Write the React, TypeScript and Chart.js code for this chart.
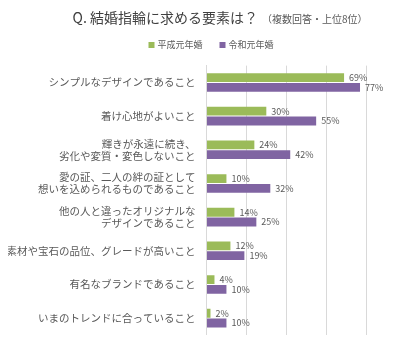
import React, { useEffect, useRef } from "react";
import { Chart, registerables } from "chart.js";

Chart.register(...registerables);

const categories: (string | string[])[] = [
  "シンプルなデザインであること",
  "着け心地がよいこと",
  ["輝きが永遠に続き、", "劣化や変質・変色しないこと"],
  ["愛の証、二人の絆の証として", "想いを込められるものであること"],
  ["他の人と違ったオリジナルな", "デザインであること"],
  "素材や宝石の品位、グレードが高いこと",
  "有名なブランドであること",
  "いまのトレンドに合っていること",
];
const heiseiValues = [69, 30, 24, 10, 14, 12, 4, 2];
const reiwaValues = [77, 55, 42, 32, 25, 19, 10, 10];
const seriesNames = ["平成元年婚", "令和元年婚"];
const seriesColors = ["#9BBB59", "#8064A2"];
const titleText = "Q. 結婚指輪に求める要素は？";
const subtitleText = "（複数回答・上位8位）";
const xTicks = [0, 20, 40, 60, 80];

const FONT = "'Noto Sans CJK JP', 'Noto Sans', sans-serif";

const titlePlugin = {
  id: "customTitle",
  afterDraw(chart: any) {
    const ctx = chart.ctx;
    ctx.save();
    ctx.textBaseline = "middle";
    ctx.font = `14px ${FONT}`;
    const w1 = ctx.measureText(titleText).width;
    ctx.font = `10px ${FONT}`;
    const w2 = ctx.measureText(subtitleText).width;
    const total = w1 + 4 + w2;
    let x = 212 - total / 2;
    const y = 10;
    ctx.textAlign = "left";
    ctx.fillStyle = "#404040";
    ctx.font = `14px ${FONT}`;
    ctx.fillText(titleText, x, y);
    x += w1 + 4;
    ctx.fillStyle = "#595959";
    ctx.font = `10px ${FONT}`;
    ctx.fillText(subtitleText, x, y + 1);
    ctx.restore();
  },
};

const legendPlugin = {
  id: "customLegend",
  afterDraw(chart: any) {
    const ctx = chart.ctx;
    ctx.save();
    ctx.font = `9px ${FONT}`;
    ctx.textBaseline = "middle";
    ctx.textAlign = "left";
    const box = 6;
    const gap = 3;
    const itemGap = 17;
    const ds = chart.data.datasets;
    const widths = ds.map((d: any) => box + gap + ctx.measureText(d.label).width);
    const total = widths.reduce((a: number, b: number) => a + b, 0) + itemGap * (ds.length - 1);
    let x = 203 - total / 2;
    const y = 37;
    ds.forEach((d: any, i: number) => {
      ctx.fillStyle = d.backgroundColor;
      ctx.fillRect(x, y - box / 2, box, box);
      ctx.fillStyle = "#595959";
      ctx.fillText(d.label, x + box + gap, y);
      x += widths[i] + itemGap;
    });
    ctx.restore();
  },
};

const dataLabelPlugin = {
  id: "dataLabels",
  afterDatasetsDraw(chart: any) {
    const ctx = chart.ctx;
    ctx.save();
    ctx.font = `9px ${FONT}`;
    ctx.fillStyle = "#595959";
    ctx.textBaseline = "middle";
    ctx.textAlign = "left";
    chart.data.datasets.forEach((d: any, di: number) => {
      const meta = chart.getDatasetMeta(di);
      meta.data.forEach((el: any, i: number) => {
        ctx.fillText(`${d.data[i]}%`, el.x + 5, el.y);
      });
    });
    ctx.restore();
  },
};

export default function App() {
  const ref = useRef<HTMLCanvasElement | null>(null);
  useEffect(() => {
    if (!ref.current) return;
    const chart = new Chart(ref.current, {
      type: "bar",
      data: {
        labels: categories,
        datasets: [
          {
            label: seriesNames[0],
            data: heiseiValues,
            backgroundColor: seriesColors[0],
            categoryPercentage: 0.58,
            barPercentage: 0.9,
          },
          {
            label: seriesNames[1],
            data: reiwaValues,
            backgroundColor: seriesColors[1],
            categoryPercentage: 0.58,
            barPercentage: 0.9,
          },
        ],
      },
      options: {
        indexAxis: "y",
        animation: false,
        responsive: true,
        maintainAspectRatio: false,
        layout: { padding: { top: 57.6, left: 0, right: 26, bottom: 0 } },
        plugins: {
          legend: { display: false },
          title: { display: false },
          tooltip: { enabled: false },
        },
        scales: {
          x: {
            min: 0,
            max: 80,
            afterBuildTicks(scale: any) {
              scale.ticks = xTicks.map((v) => ({ value: v }));
            },
            ticks: { display: false },
            grid: { color: "#d9d9d9", drawTicks: false, lineWidth: 1 },
            border: { display: false },
          },
          y: {
            afterFit(scale: any) {
              scale.width = 198.5;
            },
            ticks: {
              color: "#595959",
              font: { family: FONT, size: 10.5, lineHeight: 1.15 },
              padding: 11,
              autoSkip: false,
            },
            grid: { display: false, drawTicks: false },
            border: { display: true, color: "#d9d9d9" },
          },
        },
      },
      plugins: [titlePlugin, legendPlugin, dataLabelPlugin],
    });
    return () => chart.destroy();
  }, []);
  return (
    <div style={{ width: 384, height: 344, position: "relative" }}>
      <canvas ref={ref} />
    </div>
  );
}
